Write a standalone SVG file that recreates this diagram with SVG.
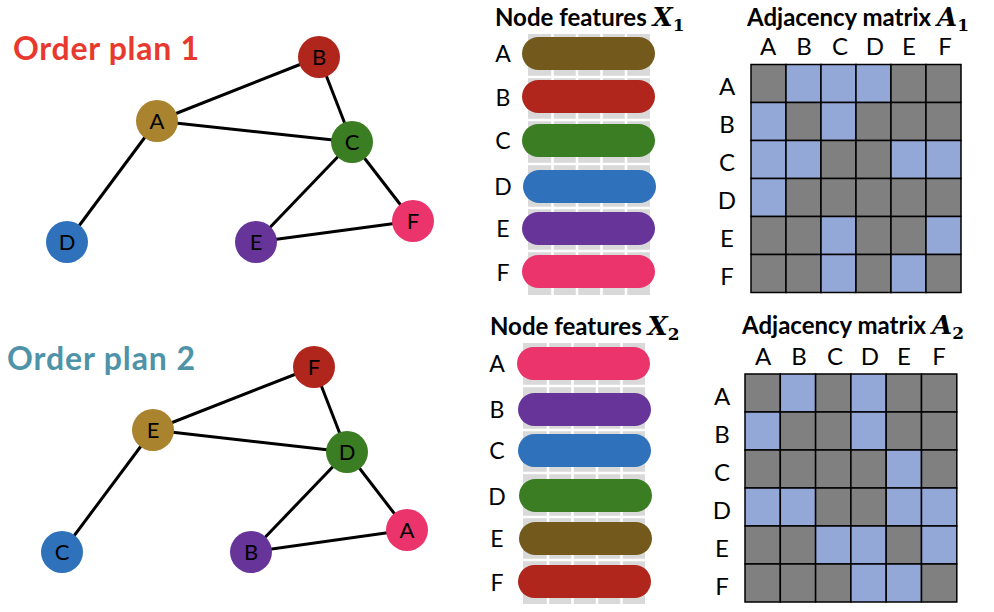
<svg xmlns="http://www.w3.org/2000/svg" width="994" height="612" viewBox="0 0 994 612">
<style>
.title{font-family:Lato,"Open Sans",sans-serif;font-weight:bold;font-size:32px}
.hdr{font-family:Lato,"Open Sans",sans-serif;font-weight:bold;font-size:24px;fill:#000}
.math{font-family:"DejaVu Serif","Liberation Serif",serif;font-style:italic;font-weight:bold;font-size:26px}
.sub{font-family:"DejaVu Serif","Liberation Serif",serif;font-weight:bold;font-size:17px}
.lbl{font-family:Lato,"Open Sans",sans-serif;font-size:22px;fill:#000;text-anchor:middle}
.rl{font-family:Lato,"Open Sans",sans-serif;font-size:23px;fill:#000;text-anchor:middle}
.ml{font-family:Lato,"Open Sans",sans-serif;font-size:24px;fill:#000;text-anchor:middle}
.edge{stroke:#000;stroke-width:3;fill:none}
.grid{fill:#d9d9d9}
.sep{stroke:#fff;stroke-width:2.5}
.z{fill:#808080;stroke:#000;stroke-width:1.5}
.o{fill:#94a8d8;stroke:#000;stroke-width:1.5}
.cA{fill:#a9832e}.cB{fill:#b0261c}.cC{fill:#3a7d22}.cD{fill:#2f71bb}.cE{fill:#673599}.cF{fill:#ea346b}
.fA{fill:#735a1c}
</style>

<text class="title" x="13" y="60" fill="#e8392e" textLength="186" lengthAdjust="spacing">Order plan 1</text>
<text class="title" x="7" y="370" fill="#4e93a8" textLength="188" lengthAdjust="spacing">Order plan 2</text>

<g id="connectors">
  <line class="edge" x1="157" y1="121" x2="319" y2="57"/>
  <line class="edge" x1="157" y1="121" x2="352" y2="142"/>
  <line class="edge" x1="157" y1="121" x2="67" y2="242"/>
  <line class="edge" x1="319" y1="57" x2="352" y2="142"/>
  <line class="edge" x1="352" y1="142" x2="256" y2="242"/>
  <line class="edge" x1="352" y1="142" x2="413" y2="221"/>
  <line class="edge" x1="256" y1="242" x2="413" y2="221"/>

  <line class="edge" x1="153" y1="430" x2="314" y2="367"/>
  <line class="edge" x1="153" y1="430" x2="347" y2="452"/>
  <line class="edge" x1="153" y1="430" x2="62" y2="552"/>
  <line class="edge" x1="314" y1="367" x2="347" y2="452"/>
  <line class="edge" x1="347" y1="452" x2="251" y2="552"/>
  <line class="edge" x1="347" y1="452" x2="407" y2="530"/>
  <line class="edge" x1="251" y1="552" x2="407" y2="530"/>
</g>

<g id="g1-A"><circle class="cA" cx="157" cy="121" r="21"/><text class="lbl" x="157" y="129">A</text></g>
<g id="g1-B"><circle class="cB" cx="319" cy="57" r="21"/><text class="lbl" x="319" y="65">B</text></g>
<g id="g1-C"><circle class="cC" cx="352" cy="142" r="21"/><text class="lbl" x="352" y="150">C</text></g>
<g id="g1-D"><circle class="cD" cx="67" cy="242" r="21"/><text class="lbl" x="67" y="250">D</text></g>
<g id="g1-E"><circle class="cE" cx="256" cy="242" r="21"/><text class="lbl" x="256" y="250">E</text></g>
<g id="g1-F"><circle class="cF" cx="413" cy="221" r="21"/><text class="lbl" x="413" y="229">F</text></g>

<g id="g2-E"><circle class="cA" cx="153" cy="430" r="21"/><text class="lbl" x="153" y="438">E</text></g>
<g id="g2-F"><circle class="cB" cx="314" cy="367" r="21"/><text class="lbl" x="314" y="375">F</text></g>
<g id="g2-D"><circle class="cC" cx="347" cy="452" r="21"/><text class="lbl" x="347" y="460">D</text></g>
<g id="g2-C"><circle class="cD" cx="62" cy="552" r="21"/><text class="lbl" x="62" y="560">C</text></g>
<g id="g2-B"><circle class="cE" cx="251" cy="552" r="21"/><text class="lbl" x="251" y="560">B</text></g>
<g id="g2-A"><circle class="cF" cx="407" cy="530" r="21"/><text class="lbl" x="407" y="538">A</text></g>

<g id="features1">
  <text class="hdr" x="495" y="26">Node features <tspan class="math">X</tspan><tspan class="sub" dy="5">1</tspan></text>
  <rect class="grid" x="528" y="34" width="122" height="261"/>
  <line class="sep" x1="552.5" y1="34" x2="552.5" y2="295"/>
  <line class="sep" x1="577" y1="34" x2="577" y2="295"/>
  <line class="sep" x1="601.5" y1="34" x2="601.5" y2="295"/>
  <line class="sep" x1="626" y1="34" x2="626" y2="295"/>
  <line class="sep" x1="528" y1="77" x2="650" y2="77"/>
  <line class="sep" x1="528" y1="120" x2="650" y2="120"/>
  <line class="sep" x1="528" y1="164" x2="650" y2="164"/>
  <line class="sep" x1="528" y1="208" x2="650" y2="208"/>
  <line class="sep" x1="528" y1="251" x2="650" y2="251"/>
  <rect class="fA" x="522" y="37" width="133" height="33" rx="16.5"/>
  <rect class="cB" x="522" y="80" width="133" height="33" rx="16.5"/>
  <rect class="cC" x="522" y="124" width="133" height="33" rx="16.5"/>
  <rect class="cD" x="523" y="170" width="133" height="33" rx="16.5"/>
  <rect class="cE" x="522" y="212" width="133" height="33" rx="16.5"/>
  <rect class="cF" x="522" y="255" width="133" height="33" rx="16.5"/>
  <text class="rl" x="503" y="62">A</text>
  <text class="rl" x="503" y="106">B</text>
  <text class="rl" x="503" y="149">C</text>
  <text class="rl" x="503" y="195">D</text>
  <text class="rl" x="503" y="237">E</text>
  <text class="rl" x="503" y="281">F</text>
</g>

<g id="features2">
  <text class="hdr" x="490" y="335">Node features <tspan class="math">X</tspan><tspan class="sub" dy="5">2</tspan></text>
  <rect class="grid" x="523" y="343" width="122" height="261"/>
  <line class="sep" x1="548" y1="343" x2="548" y2="604"/>
  <line class="sep" x1="572.5" y1="343" x2="572.5" y2="604"/>
  <line class="sep" x1="597" y1="343" x2="597" y2="604"/>
  <line class="sep" x1="621.5" y1="343" x2="621.5" y2="604"/>
  <line class="sep" x1="523" y1="386" x2="645" y2="386"/>
  <line class="sep" x1="523" y1="430" x2="645" y2="430"/>
  <line class="sep" x1="523" y1="473" x2="645" y2="473"/>
  <line class="sep" x1="523" y1="517" x2="645" y2="517"/>
  <line class="sep" x1="523" y1="560" x2="645" y2="560"/>
  <rect class="cF" x="517" y="347" width="133" height="33" rx="16.5"/>
  <rect class="cE" x="518" y="393" width="133" height="33" rx="16.5"/>
  <rect class="cD" x="518" y="434" width="133" height="33" rx="16.5"/>
  <rect class="cC" x="519" y="479" width="133" height="33" rx="16.5"/>
  <rect class="fA" x="519" y="522" width="133" height="33" rx="16.5"/>
  <rect class="cB" x="518" y="565" width="133" height="33" rx="16.5"/>
  <text class="rl" x="497" y="372">A</text>
  <text class="rl" x="497" y="418">B</text>
  <text class="rl" x="497" y="459">C</text>
  <text class="rl" x="497" y="505">D</text>
  <text class="rl" x="497" y="547">E</text>
  <text class="rl" x="497" y="591">F</text>
</g>

<g id="matrix1">
  <text class="hdr" x="747" y="26">Adjacency matrix <tspan class="math">A</tspan><tspan class="sub" dy="5">1</tspan></text>
  <g>
    <text class="ml" x="768" y="55">A</text><text class="ml" x="804" y="55">B</text><text class="ml" x="840" y="55">C</text>
    <text class="ml" x="875" y="55">D</text><text class="ml" x="909" y="55">E</text><text class="ml" x="945" y="55">F</text>
    <text class="ml" x="727" y="95">A</text><text class="ml" x="727" y="133">B</text><text class="ml" x="727" y="171">C</text>
    <text class="ml" x="727" y="209">D</text><text class="ml" x="727" y="247">E</text><text class="ml" x="727" y="285">F</text>
  </g>
  <g transform="translate(751,64.5)">
    <rect class="z" x="0" y="0" width="35" height="38"/><rect class="o" x="35" y="0" width="35" height="38"/><rect class="o" x="70" y="0" width="35" height="38"/><rect class="o" x="105" y="0" width="35" height="38"/><rect class="z" x="140" y="0" width="35" height="38"/><rect class="z" x="175" y="0" width="35" height="38"/>
    <rect class="o" x="0" y="38" width="35" height="38"/><rect class="z" x="35" y="38" width="35" height="38"/><rect class="o" x="70" y="38" width="35" height="38"/><rect class="z" x="105" y="38" width="35" height="38"/><rect class="z" x="140" y="38" width="35" height="38"/><rect class="z" x="175" y="38" width="35" height="38"/>
    <rect class="o" x="0" y="76" width="35" height="38"/><rect class="o" x="35" y="76" width="35" height="38"/><rect class="z" x="70" y="76" width="35" height="38"/><rect class="z" x="105" y="76" width="35" height="38"/><rect class="o" x="140" y="76" width="35" height="38"/><rect class="o" x="175" y="76" width="35" height="38"/>
    <rect class="o" x="0" y="114" width="35" height="38"/><rect class="z" x="35" y="114" width="35" height="38"/><rect class="z" x="70" y="114" width="35" height="38"/><rect class="z" x="105" y="114" width="35" height="38"/><rect class="z" x="140" y="114" width="35" height="38"/><rect class="z" x="175" y="114" width="35" height="38"/>
    <rect class="z" x="0" y="152" width="35" height="38"/><rect class="z" x="35" y="152" width="35" height="38"/><rect class="o" x="70" y="152" width="35" height="38"/><rect class="z" x="105" y="152" width="35" height="38"/><rect class="z" x="140" y="152" width="35" height="38"/><rect class="o" x="175" y="152" width="35" height="38"/>
    <rect class="z" x="0" y="190" width="35" height="38"/><rect class="z" x="35" y="190" width="35" height="38"/><rect class="o" x="70" y="190" width="35" height="38"/><rect class="z" x="105" y="190" width="35" height="38"/><rect class="o" x="140" y="190" width="35" height="38"/><rect class="z" x="175" y="190" width="35" height="38"/>
  </g>
</g>

<g id="matrix2">
  <text class="hdr" x="742" y="334">Adjacency matrix <tspan class="math">A</tspan><tspan class="sub" dy="5">2</tspan></text>
  <g>
    <text class="ml" x="763" y="365">A</text><text class="ml" x="799" y="365">B</text><text class="ml" x="835" y="365">C</text>
    <text class="ml" x="870" y="365">D</text><text class="ml" x="904" y="365">E</text><text class="ml" x="939" y="365">F</text>
    <text class="ml" x="722" y="405">A</text><text class="ml" x="722" y="443">B</text><text class="ml" x="722" y="481">C</text>
    <text class="ml" x="722" y="519">D</text><text class="ml" x="722" y="557">E</text><text class="ml" x="722" y="595">F</text>
  </g>
  <g transform="translate(745,374)">
    <rect class="z" x="0" y="0" width="35.3" height="38"/><rect class="o" x="35.3" y="0" width="35.3" height="38"/><rect class="z" x="70.6" y="0" width="35.3" height="38"/><rect class="o" x="105.9" y="0" width="35.3" height="38"/><rect class="z" x="141.2" y="0" width="35.3" height="38"/><rect class="z" x="176.5" y="0" width="35.3" height="38"/>
    <rect class="o" x="0" y="38" width="35.3" height="38"/><rect class="z" x="35.3" y="38" width="35.3" height="38"/><rect class="z" x="70.6" y="38" width="35.3" height="38"/><rect class="o" x="105.9" y="38" width="35.3" height="38"/><rect class="z" x="141.2" y="38" width="35.3" height="38"/><rect class="z" x="176.5" y="38" width="35.3" height="38"/>
    <rect class="z" x="0" y="76" width="35.3" height="38"/><rect class="z" x="35.3" y="76" width="35.3" height="38"/><rect class="z" x="70.6" y="76" width="35.3" height="38"/><rect class="z" x="105.9" y="76" width="35.3" height="38"/><rect class="o" x="141.2" y="76" width="35.3" height="38"/><rect class="z" x="176.5" y="76" width="35.3" height="38"/>
    <rect class="o" x="0" y="114" width="35.3" height="38"/><rect class="o" x="35.3" y="114" width="35.3" height="38"/><rect class="z" x="70.6" y="114" width="35.3" height="38"/><rect class="z" x="105.9" y="114" width="35.3" height="38"/><rect class="o" x="141.2" y="114" width="35.3" height="38"/><rect class="o" x="176.5" y="114" width="35.3" height="38"/>
    <rect class="z" x="0" y="152" width="35.3" height="38"/><rect class="z" x="35.3" y="152" width="35.3" height="38"/><rect class="o" x="70.6" y="152" width="35.3" height="38"/><rect class="o" x="105.9" y="152" width="35.3" height="38"/><rect class="z" x="141.2" y="152" width="35.3" height="38"/><rect class="o" x="176.5" y="152" width="35.3" height="38"/>
    <rect class="z" x="0" y="190" width="35.3" height="38"/><rect class="z" x="35.3" y="190" width="35.3" height="38"/><rect class="z" x="70.6" y="190" width="35.3" height="38"/><rect class="o" x="105.9" y="190" width="35.3" height="38"/><rect class="o" x="141.2" y="190" width="35.3" height="38"/><rect class="z" x="176.5" y="190" width="35.3" height="38"/>
  </g>
</g>
</svg>
